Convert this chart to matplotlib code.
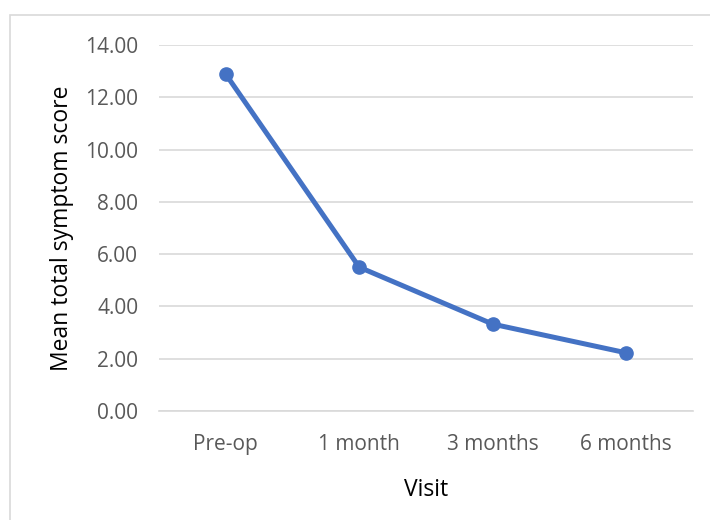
import matplotlib.pyplot as plt
from matplotlib.patches import Rectangle

plt.rcParams['font.family'] = ['Open Sans', 'DejaVu Sans']

visits = ['Pre-op', '1 month', '3 months', '6 months']
mean_score = [12.89, 5.50, 3.32, 2.22]
yticks = [0, 2, 4, 6, 8, 10, 12, 14]

fig = plt.figure(figsize=(7.1, 5.2), dpi=100)
ax = fig.add_axes([0.224, 0.210, 0.752, 0.703])

# chart frame (only left and top edges are visible)
fig.patches.append(Rectangle((9.5 / 710, -0.1), 1.2, 1.1 - 15.5 / 520,
                             transform=fig.transFigure, fill=False,
                             edgecolor='#d9d9d9', linewidth=1.2))

x = range(len(visits))
ax.plot(x, mean_score, color='#4472c4', linewidth=3.6, marker='o',
        markersize=9.5, zorder=3)

ax.set_xlim(-0.5, len(visits) - 0.5)
ax.set_ylim(0, 14)
ax.set_yticks(yticks)
ax.set_yticklabels(['{:.2f}'.format(v) for v in yticks])
ax.set_xticks(list(x))
ax.set_xticklabels(visits)

ax.grid(axis='y', color='#d9d9d9', linewidth=1.2)
ax.set_axisbelow(True)
for s in ['top', 'right', 'left']:
    ax.spines[s].set_visible(False)
ax.spines['bottom'].set_color('#d9d9d9')
ax.spines['bottom'].set_linewidth(1.2)
ax.tick_params(length=0, labelsize=15, labelcolor='#595959')
ax.tick_params(axis='y', pad=15)
ax.tick_params(axis='x', pad=17)

ax.set_xlabel('Visit', fontsize=16.5, color='black', labelpad=16)
ax.set_ylabel('Mean total symptom score', fontsize=16.5, color='black', labelpad=8)

fig.savefig('out.png', dpi=100)
